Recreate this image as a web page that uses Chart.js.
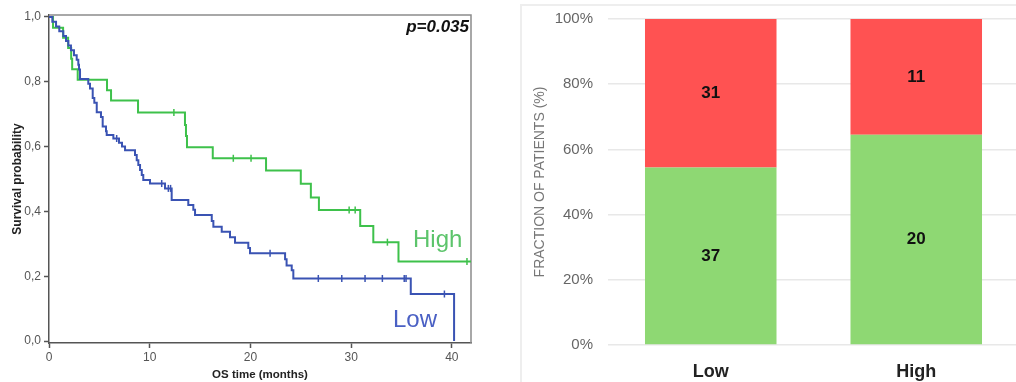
<!DOCTYPE html>
<html>
<head>
<meta charset="utf-8">
<script src="https://cdn.jsdelivr.net/npm/chart.js@4.4.0/dist/chart.umd.min.js"></script>
<style>
  html, body { margin: 0; padding: 0; background: #fff; overflow: hidden; width: 1016px; height: 382px; }
  #km { position: absolute; left: 0; top: 0; }
  #frac { position: absolute; left: 521px; top: 5px; }
  .card { position: absolute; left: 520px; top: 4px; width: 600px; height: 400px; border: 2px solid #eeeeee; }
</style>
</head>
<body>
<div class="card"></div>
<canvas id="km" width="500" height="382"></canvas>
<canvas id="frac" width="500" height="377"></canvas>
<script>
// Kaplan-Meier, Low group (time in months, survival after the event)
const lowTime = [0, 0.33, 0.70, 1.02, 1.42, 1.69, 1.92, 2.18, 2.48, 2.75, 2.91, 2.98, 3.08,
  3.90, 4.07, 4.34, 4.50, 4.74, 5.16, 5.33, 5.66, 5.73, 6.39, 6.95, 7.25, 7.55,
  8.54, 8.71, 8.87, 9.04, 9.21, 9.36, 10.03, 11.52, 12.18, 13.83, 14.33, 14.50,
  16.16, 16.32, 17.15, 17.97, 18.47, 19.79, 19.96, 23.44, 23.59, 24.10, 24.26, 35.92, 40.22];
const lowSurv = [1, 0.985, 0.971, 0.956, 0.941, 0.926, 0.912, 0.897, 0.882, 0.868, 0.853, 0.838, 0.809,
  0.794, 0.779, 0.750, 0.735, 0.706, 0.691, 0.662, 0.647, 0.636, 0.625, 0.612, 0.600, 0.589,
  0.574, 0.558, 0.543, 0.528, 0.512, 0.497, 0.486, 0.471, 0.435, 0.420, 0.405, 0.389,
  0.370, 0.353, 0.337, 0.320, 0.303, 0.287, 0.271, 0.252, 0.233, 0.218, 0.193, 0.145, 0];
const lowCensor = [6.72, 11.19, 11.85, 12.07, 21.95, 26.74, 29.07, 31.38, 33.10, 35.27, 35.45, 39.26];

// Kaplan-Meier, High group
const highTime = [0, 0.4, 1.4, 1.9, 2.2, 2.3, 2.85, 5.76, 6.16, 8.84, 13.5, 13.6, 13.7, 16.26,
  21.55, 25.0, 26.0, 26.8, 30.9, 32.2, 34.7, 41.9];
const highSurv = [1, 0.967, 0.936, 0.904, 0.871, 0.839, 0.806, 0.774, 0.742, 0.705, 0.667, 0.633, 0.598, 0.564,
  0.526, 0.485, 0.443, 0.404, 0.355, 0.305, 0.245, 0.245];
const highCensor = [12.4, 18.3, 20.06, 29.8, 30.4, 33.6, 41.5];

const kmXTicks = [0, 10, 20, 30, 40];
const kmYTicks = [0, 0.2, 0.4, 0.6, 0.8, 1.0];

// Stacked fraction bars
const groups = ['Low', 'High'];
const aliveCounts = [37, 20];
const deadCounts = [31, 11];
const fracTicks = [0, 20, 40, 60, 80, 100];

const BLUE = '#3a53b3';
const GREEN = '#3ec14b';
const FONT = 'Arial, "Liberation Sans", sans-serif';

function survAt(times, surv, t) {
  let v = surv[0];
  for (let i = 0; i < times.length; i++) {
    if (times[i] <= t) v = surv[i];
  }
  return v;
}
function steps(times, surv) {
  return times.map((t, i) => ({ x: t, y: surv[i] }));
}
function censors(list, times, surv) {
  return list.map(t => ({ x: t, y: survAt(times, surv, t) }));
}

// top and right lines of the box plus the text notes
const kmDecor = {
  id: 'kmDecor',
  beforeDatasetsDraw(chart) {
    const a = chart.chartArea;
    const c = chart.ctx;
    c.save();
    c.strokeStyle = '#8c8c8c';
    c.lineWidth = 1.5;
    c.beginPath();
    c.moveTo(a.left, a.top);
    c.lineTo(a.right, a.top);
    c.lineTo(a.right, a.bottom);
    c.stroke();
    c.restore();
  },
  afterDatasetsDraw(chart) {
    const c = chart.ctx;
    c.save();
    c.textBaseline = 'alphabetic';
    c.textAlign = 'right';
    c.fillStyle = '#111';
    c.font = 'italic bold 17px ' + FONT;
    c.fillText('p=0.035', 469, 32);
    c.textAlign = 'left';
    c.font = '24px ' + FONT;
    c.fillStyle = '#5cc46b';
    c.fillText('High', 413, 246.5);
    c.fillStyle = '#4a60c4';
    c.fillText('Low', 393, 326.5);
    c.restore();
  }
};

new Chart(document.getElementById('km'), {
  type: 'line',
  data: {
    datasets: [
      { data: steps(lowTime, lowSurv), stepped: true, borderColor: BLUE, borderWidth: 2, pointRadius: 0, fill: false },
      { data: censors(lowCensor, lowTime, lowSurv), showLine: false, pointStyle: 'line', rotation: 90,
        pointRadius: 3.5, pointBorderColor: BLUE, pointBorderWidth: 1.5, borderColor: BLUE },
      { data: steps(highTime, highSurv), stepped: true, borderColor: GREEN, borderWidth: 2, pointRadius: 0, fill: false },
      { data: censors(highCensor, highTime, highSurv), showLine: false, pointStyle: 'line', rotation: 90,
        pointRadius: 3.5, pointBorderColor: GREEN, pointBorderWidth: 1.5, borderColor: GREEN }
    ]
  },
  options: {
    responsive: false,
    animation: false,
    layout: { padding: { left: 0, top: 15, right: 29, bottom: 0 } },
    plugins: { legend: { display: false }, tooltip: { enabled: false } },
    scales: {
      x: {
        type: 'linear', min: 0, max: 41.9,
        afterFit: s => { s.height = 39; },
        afterBuildTicks: s => { s.ticks = kmXTicks.map(v => ({ value: v })); },
        grid: { drawOnChartArea: false, drawTicks: true, tickLength: 5, tickColor: '#555', tickWidth: 1.5 },
        border: { display: true, color: '#555', width: 1.5 },
        ticks: { color: '#555', font: { family: FONT, size: 12 }, padding: 2, maxRotation: 0 },
        title: { display: true, text: 'OS time (months)', color: '#222',
          font: { family: FONT, size: 11.5, weight: 'bold' }, padding: { top: 0, bottom: 0 } }
      },
      y: {
        type: 'linear', min: -0.00617, max: 1.00617,
        afterFit: s => { s.width = 49; },
        afterBuildTicks: s => { s.ticks = kmYTicks.map(v => ({ value: v })); },
        grid: { drawOnChartArea: false, drawTicks: true, tickLength: 5, tickColor: '#555', tickWidth: 1.5 },
        border: { display: true, color: '#555', width: 1.5 },
        ticks: { color: '#555', font: { family: FONT, size: 12 }, padding: 3,
          callback: v => v.toFixed(1).replace('.', ',') },
        title: { display: true, text: 'Survival probability', color: '#222',
          font: { family: FONT, size: 12, weight: 'bold' }, padding: { top: 10, bottom: 0 } }
      }
    }
  },
  plugins: [kmDecor]
});

const totals = groups.map((g, i) => aliveCounts[i] + deadCounts[i]);
const countSets = [aliveCounts, deadCounts];

const barLabels = {
  id: 'barLabels',
  afterDatasetsDraw(chart) {
    const c = chart.ctx;
    c.save();
    c.font = 'bold 17px ' + FONT;
    c.fillStyle = '#111';
    c.textAlign = 'center';
    c.textBaseline = 'middle';
    chart.data.datasets.forEach((ds, i) => {
      chart.getDatasetMeta(i).data.forEach((bar, j) => {
        const p = bar.getProps(['x', 'y', 'base'], true);
        c.fillText(String(countSets[i][j]), p.x, (p.y + p.base) / 2);
      });
    });
    c.restore();
  }
};

new Chart(document.getElementById('frac'), {
  type: 'bar',
  data: {
    labels: groups,
    datasets: [
      { data: aliveCounts.map((n, i) => n / totals[i] * 100), backgroundColor: '#8ed873', borderWidth: 0 },
      { data: deadCounts.map((n, i) => n / totals[i] * 100), backgroundColor: '#ff5252', borderWidth: 0 }
    ]
  },
  options: {
    responsive: false,
    animation: false,
    layout: { padding: { left: 0, top: 14, right: 2, bottom: 0 } },
    plugins: { legend: { display: false }, tooltip: { enabled: false } },
    datasets: { bar: { barPercentage: 0.64, categoryPercentage: 1.0 } },
    scales: {
      x: {
        stacked: true,
        afterFit: s => { s.height = 37; },
        grid: { display: false },
        border: { display: false },
        ticks: { color: '#222', font: { family: FONT, size: 18, weight: 'bold' }, padding: 8 }
      },
      y: {
        stacked: true, min: 0, max: 100,
        afterFit: s => { s.width = 87; s.paddingTop = 0; s.paddingBottom = 0; },
        afterBuildTicks: s => { s.ticks = fracTicks.map(v => ({ value: v })); },
        grid: { color: '#e8e8e8', lineWidth: 1.5, drawTicks: false },
        border: { display: false },
        ticks: { color: '#666', font: { family: FONT, size: 15 }, padding: 15, callback: v => v + '%' },
        title: { display: true, text: 'FRACTION OF PATIENTS (%)', color: '#777',
          font: { family: FONT, size: 14 }, padding: { top: 11, bottom: 0 } }
      }
    }
  },
  plugins: [barLabels]
});
</script>
</body>
</html>
